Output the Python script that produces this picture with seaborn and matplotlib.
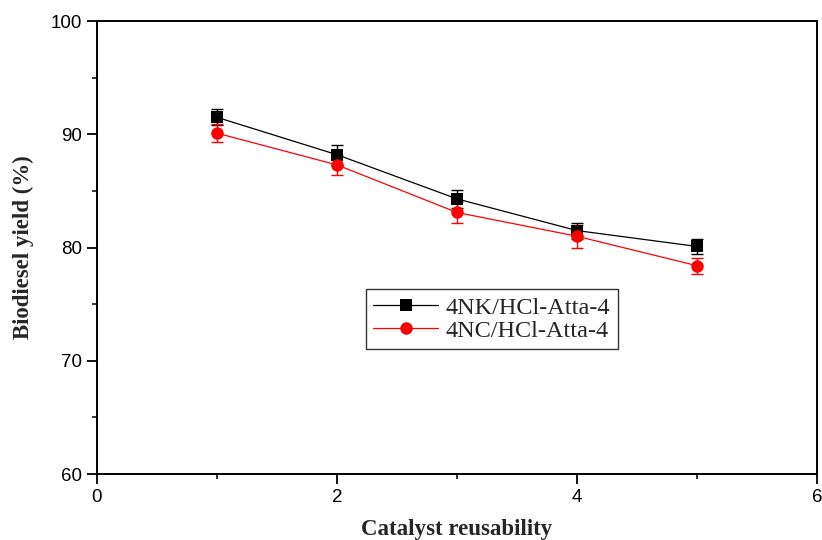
import matplotlib
matplotlib.use("Agg")
import matplotlib.pyplot as plt
from matplotlib.ticker import MultipleLocator
import numpy as np
import pandas as pd
import seaborn as sns

# Reuse cycles and biodiesel yields for the two catalysts
cycles = [1, 2, 3, 4, 5]
nk_yield = [91.5, 88.2, 84.3, 81.5, 80.1]
nk_err = [0.7, 0.9, 0.8, 0.7, 0.7]
nc_yield = [90.1, 87.3, 83.1, 81.0, 78.4]
nc_err = [0.8, 0.9, 0.9, 1.0, 0.7]
series_names = ["4NK/HCl-Atta-4", "4NC/HCl-Atta-4"]

df = pd.DataFrame({
    "cycle": cycles * 2,
    "yield": nk_yield + nc_yield,
    "err": nk_err + nc_err,
    "catalyst": [series_names[0]] * 5 + [series_names[1]] * 5,
})

sns.set_theme(style="ticks")
plt.rcParams["font.family"] = ["Liberation Sans", "DejaVu Sans"]

fig = plt.figure(figsize=(8.22, 5.40), dpi=100)
ax = fig.add_axes([0.118, 0.122, 0.876, 0.839])

colors = {series_names[0]: "black", series_names[1]: "red"}
markers = {series_names[0]: "s", series_names[1]: "o"}

for name in series_names:
    sub = df[df["catalyst"] == name]
    ax.errorbar(sub["cycle"], sub["yield"], yerr=sub["err"], fmt="none",
                ecolor=colors[name], elinewidth=1.0, capsize=4.3, capthick=1.0,
                zorder=2)

sns.lineplot(data=df, x="cycle", y="yield", hue="catalyst", style="catalyst",
             palette=colors, markers=markers, dashes=False, ax=ax,
             linewidth=0.9, markersize=9, markeredgewidth=0,
             hue_order=series_names, style_order=series_names, zorder=3)

ax.set_xlim(0, 6)
ax.set_ylim(60, 100)
ax.xaxis.set_major_locator(MultipleLocator(2))
ax.xaxis.set_minor_locator(MultipleLocator(1))
ax.yaxis.set_major_locator(MultipleLocator(10))
ax.yaxis.set_minor_locator(MultipleLocator(5))

for side in ["left", "bottom", "top", "right"]:
    ax.spines[side].set_visible(True)
    ax.spines[side].set_linewidth(1.4)
    ax.spines[side].set_color("black")

ax.tick_params(axis="both", which="major", direction="out", length=7, width=1.3,
               labelsize=13.5, colors="black", pad=4)
ax.tick_params(axis="both", which="minor", direction="out", length=3.6, width=1.3)
ax.tick_params(top=False, right=False, which="both")

ax.set_xlabel("Catalyst reusability",
              fontdict={"family": "Liberation Serif", "weight": "bold", "size": 16.5},
              labelpad=9)
ax.set_ylabel("Biodiesel yield (%)",
              fontdict={"family": "Liberation Serif", "weight": "bold", "size": 16.5},
              labelpad=12)

leg = ax.legend(title=None, loc="upper left", bbox_to_anchor=(0.373, 0.408),
                frameon=True, fancybox=False, edgecolor="black",
                prop={"family": "Liberation Serif", "size": 17.5},
                handlelength=2.7, borderpad=0.3, labelspacing=0.05,
                handletextpad=0.3, borderaxespad=0)
leg.get_frame().set_linewidth(1.0)

fig.savefig("out.png", dpi=100, facecolor="white")
